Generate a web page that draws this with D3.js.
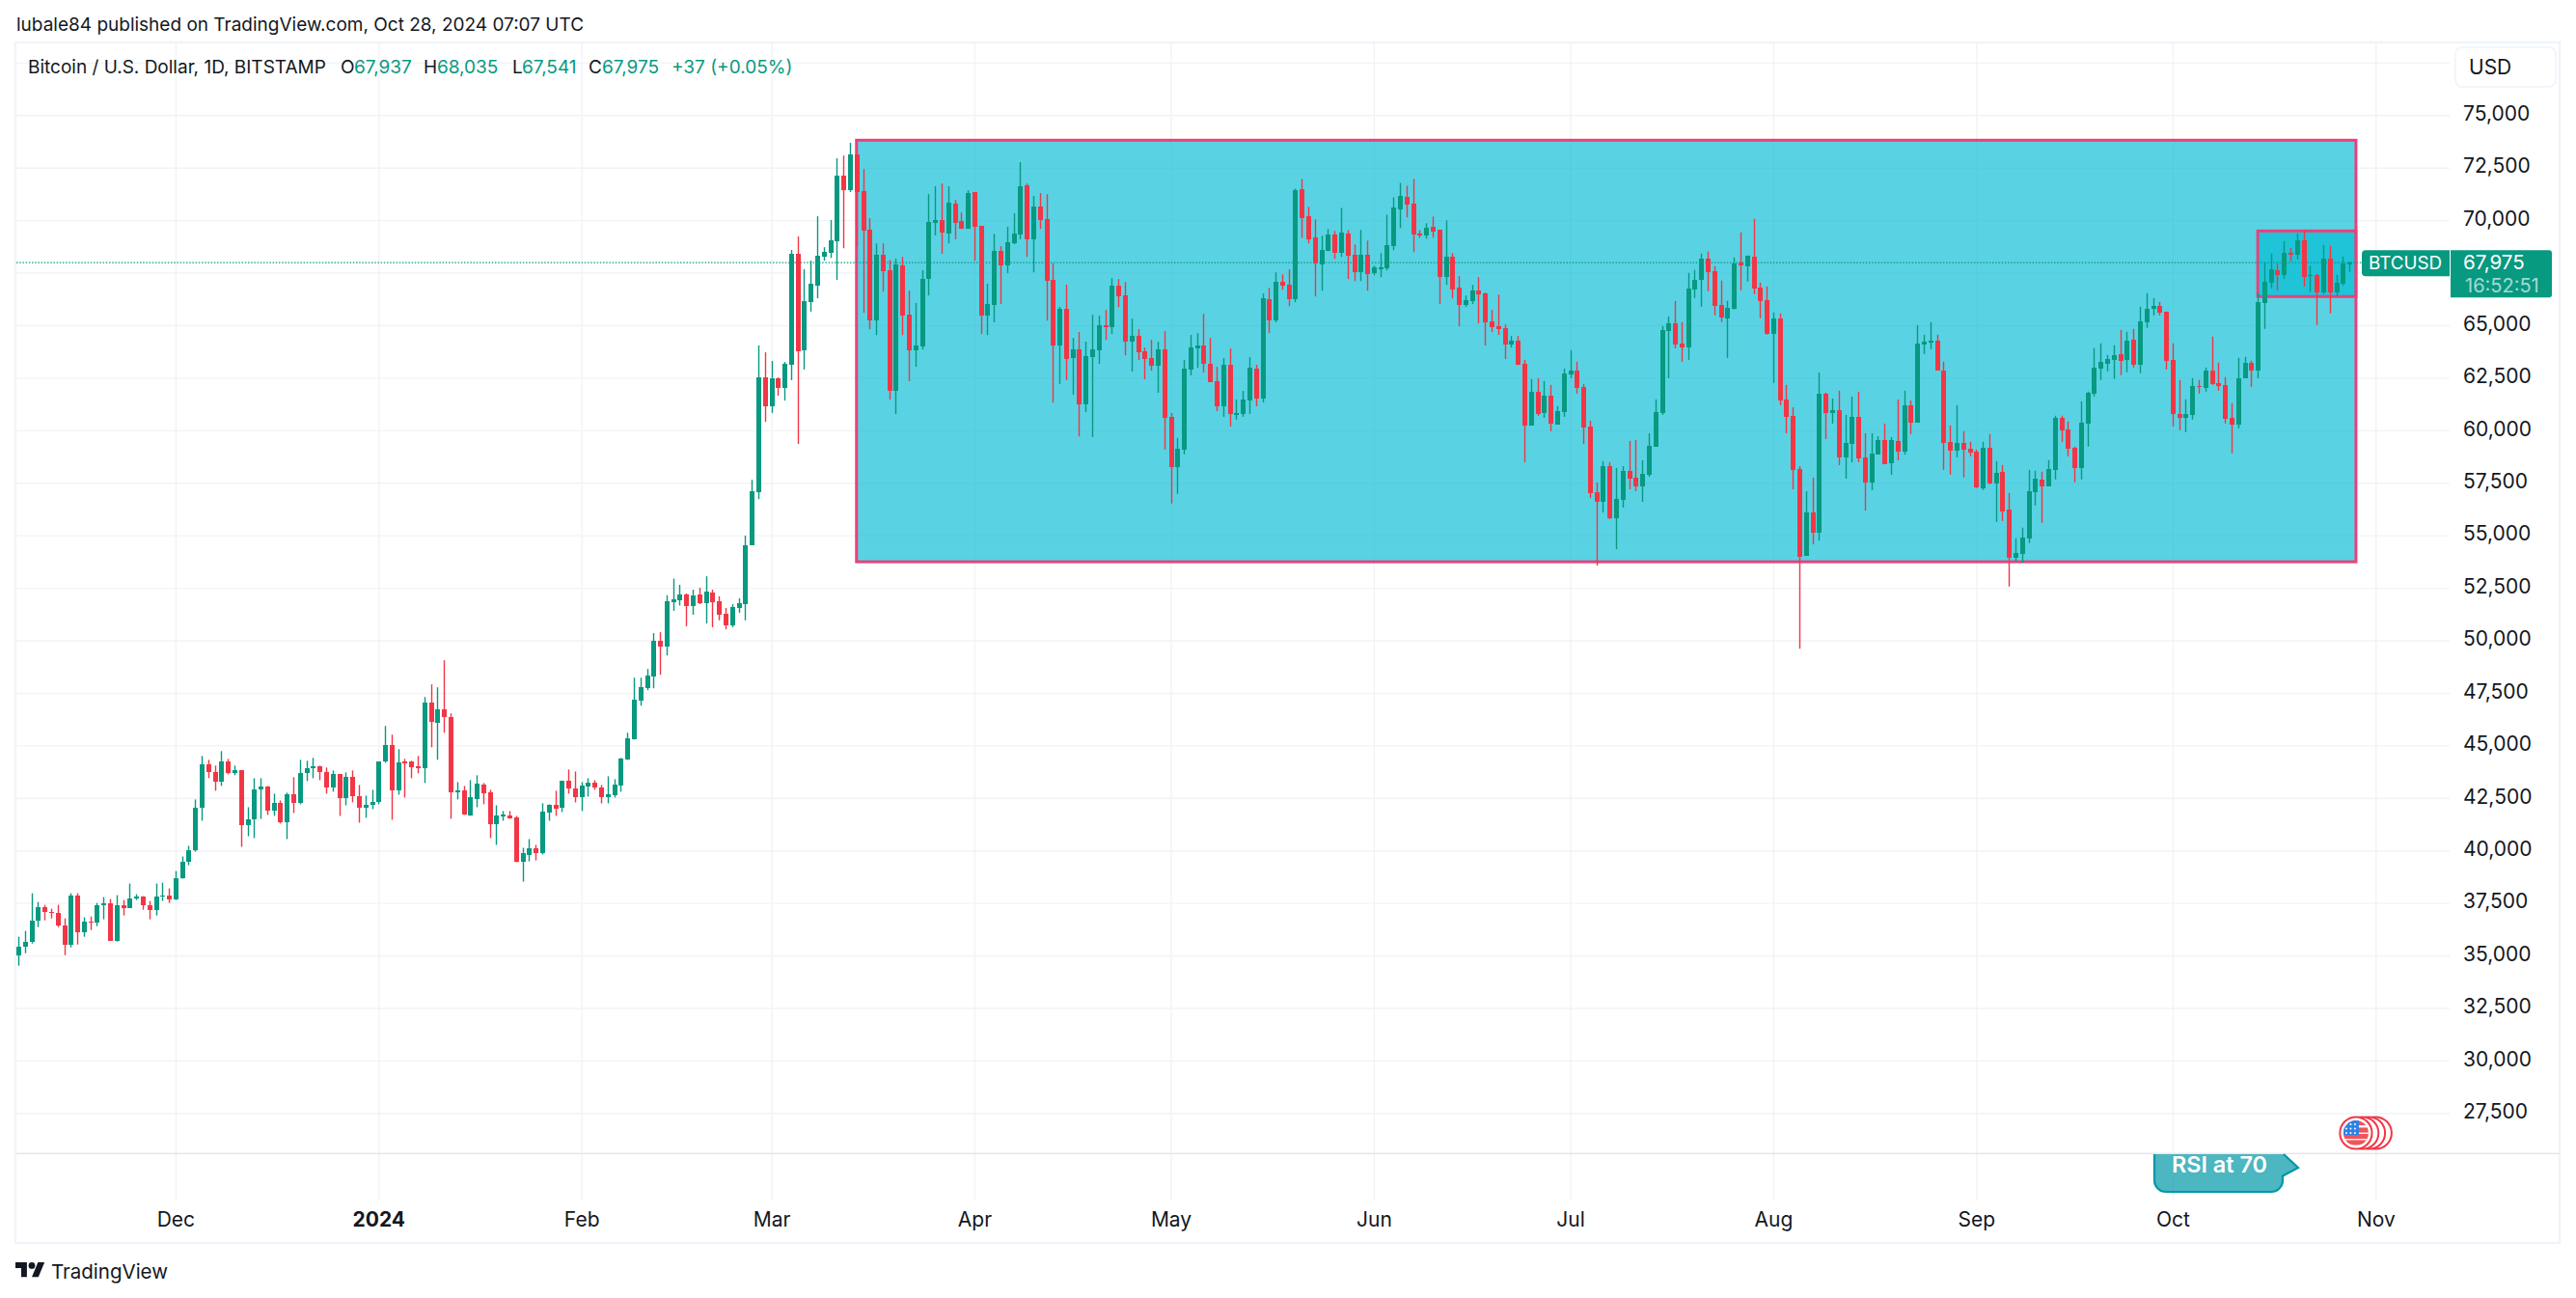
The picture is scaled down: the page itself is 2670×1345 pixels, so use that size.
<!DOCTYPE html>
<html>
<head>
<meta charset="utf-8">
<script src="https://cdn.jsdelivr.net/npm/d3@7"></script>
<style>
  html, body { margin: 0; padding: 0; background: #fff; }
  svg { display: block; font-family: Inter, "Noto Sans", sans-serif; }
  text { fill: #131722; }
</style>
</head>
<body>
<svg id="chart" width="2670" height="1345"></svg>
<script>
// daily candles, Nov 7 2023 .. Oct 28 2024
const days = d3.utcDay.range(new Date(Date.UTC(2023, 10, 7)), new Date(Date.UTC(2024, 9, 29)));

const opens = [
  35015,35430,35660,36672,37316,37086,37040,36442,35522,37869,
  36120,36626,36580,37408,37500,35706,37408,37270,37730,37823,
  37408,37178,37823,37869,37685,38697,39479,39986,42010,44081,
  43713,43253,44219,43667,43805,41182,41458,42885,43023,41872,
  42240,41320,42655,42240,43667,43897,43989,43713,42977,43621,
  42471,43483,42563,42010,42148,42287,44219,45002,42839,44219,
  44219,43989,43897,47027,46060,46704,46336,42747,42839,41642,
  42425,43115,42747,41228,41596,41642,41550,39479,39801,40078,
  39893,41780,42148,42010,43299,42931,42517,43023,43207,42977,
  42517,42609,43069,44311,45278,47119,47717,48269,49972,49696,
  51821,51902,52181,51640,52181,51771,52280,51870,51263,50722,
  51542,51722,54526,57052,62513,61136,62464,62005,63120,68401,
  63809,66105,66876,68253,68434,68991,72107,71418,73124,71386,
  69549,65219,68352,67614,61874,67843,65498,63809,63989,67204,
  69860,70008,69352,70779,69959,69582,71336,69729,65449,65957,
  68532,67843,68893,69319,71648,69090,70648,70041,67154,64038,
  65777,63432,63842,61234,63480,63801,64993,64901,66873,66414,
  64214,64489,63755,63435,63068,63847,60638,58255,59080,62884,
  63893,64030,63160,62334,61143,63114,60776,60776,61418,62930,
  61509,66231,65222,67056,66918,66231,71457,70173,69165,67881,
  68523,69302,68431,69348,68339,67514,68339,67468,67698,67698,
  68752,70494,71090,70769,69348,69256,69669,69531,67285,68248,
  66781,65956,66139,66643,66506,65176,64947,64856,64076,64260,
  63168,60225,61835,60823,61651,60271,60869,62663,62847,62065,
  60179,57052,56592,58293,55810,56684,58064,57742,57328,57880,
  59213,60823,64732,65100,64134,63950,66710,67170,68181,67584,
  65974,65330,65790,67997,67813,68273,66802,66204,64594,65330,
  61467,60685,58156,54016,56086,55120,61743,60823,60961,58707,
  59351,60639,58707,57512,58845,59535,58432,59489,58983,61191,
  60363,64088,64182,64273,62850,59451,59037,59405,59129,58991,
  57246,59175,57476,58027,56236,53939,54123,54858,57062,57659,
  57338,58119,60599,60048,59175,58211,60323,61747,62941,63171,
  63355,63630,63355,64319,63125,65146,65789,65927,65651,63355,
  60783,60599,60737,62115,62023,62850,62252,62161,60599,60277,
  62482,63217,62850,66065,67029,67626,67397,68453,68361,69050,
  67351,67397,66570,68177,66570,66983,67937
];

const highs = [
  35890,36166,37961,37546,37408,37224,37408,36764,37961,37961,
  36810,36856,37500,37777,37685,37869,37638,38421,37915,37823,
  37592,38421,38467,38191,39019,39709,40216,42425,44495,44311,
  44035,44726,44357,44035,43805,42056,43437,43437,43069,42701,
  42379,42747,43483,44311,44265,44403,44035,43943,43805,43621,
  43713,43805,43115,42609,42885,44219,45922,45508,44818,44357,
  44265,44495,47303,47901,47763,49051,46520,43253,43069,43345,
  43575,43207,42885,42148,41872,41872,41642,40124,40538,40262,
  42240,42194,42839,43299,43851,43759,43253,43437,43345,43115,
  43529,43391,44403,45600,48223,48223,48637,50340,50386,52145,
  52932,52640,52230,52411,52509,53050,52411,52099,51542,51722,
  52001,54986,57642,64038,63710,63300,62513,63251,68581,69221,
  67663,68073,70188,68712,70008,72944,73075,73682,73124,72435,
  70090,68893,68893,68106,68171,68253,66646,66056,67614,71238,
  71615,71746,71615,70959,70369,71418,71336,69729,66974,69352,
  68762,69680,70320,72763,71746,71156,71287,71238,67942,65875,
  66925,64399,64678,64219,65497,65452,65727,67239,67193,67056,
  65314,64810,63939,64306,64214,64718,60822,59630,63343,64535,
  64626,65543,64397,63022,63435,63893,61463,61876,63480,63114,
  66506,66781,67514,67423,67652,71502,71961,70631,70036,69256,
  69577,69485,70586,69531,68844,69531,69027,67835,68431,70265,
  71090,71777,71640,71961,69531,69852,70173,69531,69990,68431,
  67331,66414,66918,67285,66552,65727,66460,65039,64489,64489,
  63352,62433,62479,62341,62157,61145,62939,63812,63260,62203,
  60455,57512,58523,58477,58202,58293,59489,59535,58569,59857,
  61467,64962,65422,66158,65146,67492,67630,68411,68503,67813,
  67124,66158,68227,69423,68319,70067,67032,66847,65606,65560,
  62157,61099,58293,57098,57742,62755,61789,61513,61881,60731,
  61605,61835,59857,59857,59719,60317,59673,61467,61881,61421,
  65008,64548,65146,64549,63263,60232,61196,59956,59451,59083,
  59451,59818,58532,58348,57016,54858,55363,58119,58073,58027,
  58578,60691,60691,60415,59221,61380,61839,63906,64136,63584,
  64044,64779,64687,64825,65881,66524,66294,66111,65651,64136,
  62390,61472,62482,62390,62987,64457,63217,62528,61288,63447,
  63493,63309,66524,67994,68407,67948,69004,68683,69372,69509,
  67810,67443,68820,68774,67397,68269,68035
];

const lows = [
  34509,35107,35568,36350,36672,36764,36350,35015,35384,35522,
  35890,36212,36396,36718,35706,35660,36902,37270,37638,37178,
  36718,36902,37592,37500,37638,38651,39295,39939,41412,43437,
  42839,43069,43621,43575,40170,40676,40584,41504,41688,41642,
  41274,40538,41780,42194,43299,43437,43345,42701,42793,41642,
  42148,42287,41320,41550,41964,42194,44173,41458,42655,42517,
  43437,43667,43207,44910,44311,45600,41504,42425,41688,41642,
  42056,42194,40584,40262,41412,41504,39433,38513,39479,39525,
  39801,41412,41642,41826,42701,42287,41872,42563,42885,42240,
  42240,42517,42793,44311,45278,46889,47625,47717,48361,49282,
  51404,51656,50672,51214,51722,50804,50623,50951,50525,50623,
  51312,50951,54526,56724,60398,60824,61644,61414,62382,59348,
  62890,65646,66285,68073,68204,67154,68663,71336,68762,65596,
  64809,64530,66597,61464,60775,64530,62333,63022,63842,66416,
  69270,68401,68893,69090,69582,69582,68073,64580,64530,65137,
  66006,67482,68844,69090,68253,67515,69582,65219,61316,62202,
  62382,61693,59709,60857,59676,63160,64306,64581,65864,63572,
  62793,63343,62426,62839,61784,59080,56513,56971,58851,62609,
  62976,62747,62289,60913,60638,60180,60501,60638,60776,61143,
  61326,64626,65131,66689,65910,66093,69165,68890,66368,66643,
  68523,68156,68248,67193,67102,67102,66643,67377,67285,67606,
  68569,69623,70127,68477,69165,69119,69165,66002,66918,66277,
  64947,65864,66002,65085,64030,64672,64535,63389,63939,63114,
  58477,60225,60685,60593,59949,60271,60639,62479,61743,59351,
  56776,53557,56086,55764,54338,56316,57190,57098,56592,57788,
  59213,60731,62479,63904,63260,63352,66296,65882,66618,65468,
  65146,63444,65744,66664,67078,66480,65330,64548,62249,61191,
  59857,57190,49601,54016,54568,54752,59581,60317,58340,57696,
  58477,58477,56178,57144,58845,58386,57880,58569,58845,59811,
  60363,63629,63860,62850,58119,57889,58716,57751,58762,57246,
  57154,57430,55639,55684,52561,53755,53694,54628,56419,55593,
  57338,57659,59451,58762,57522,57659,59221,61609,62390,62804,
  62436,62620,62758,62987,62712,64870,65468,65468,62895,60186,
  60002,59910,60507,61747,61839,62161,61885,60323,58900,60094,
  62482,62069,62482,64825,66754,66662,67213,68040,68132,66845,
  66570,65008,66478,65559,66386,66891,67541
];

const closes = [
  35430,35660,36672,37316,37086,37040,36442,35522,37869,36120,
  36626,36580,37408,37500,35706,37408,37270,37730,37823,37408,
  37178,37823,37869,37685,38697,39479,39986,42010,44081,43713,
  43253,44219,43667,43805,41182,41458,42885,43023,41872,42240,
  41320,42655,42240,43667,43897,43989,43713,42977,43621,42471,
  43483,42563,42010,42148,42287,44219,45002,42839,44173,44173,
  43943,43943,47027,46106,46704,46336,42747,42839,41688,42517,
  43161,42701,41228,41642,41688,41504,39479,39893,40078,39893,
  41826,42148,41964,43299,42931,42517,43069,43207,42977,42517,
  42655,43115,44357,45324,47165,47763,48315,49972,49696,51867,
  51960,52181,51640,52132,51771,52329,51820,51214,50722,51591,
  51771,54526,57101,62513,61136,62464,62005,63153,68401,63760,
  66138,66974,68302,68483,69040,72107,71418,73124,71336,69500,
  65219,68352,67564,61874,67892,65449,63809,64038,67204,69910,
  70008,69401,70828,69860,69582,71287,69680,65449,66006,68532,
  67843,68942,69352,71615,69090,70648,70008,67105,64038,65777,
  63382,63842,61234,63530,63847,64993,64947,66873,66368,64214,
  64489,63710,63389,63068,63847,60592,58255,59126,62930,63939,
  64030,63160,62289,61143,63114,60776,60822,61463,62976,61509,
  66277,65222,67056,66873,66231,71411,70081,69073,67927,68569,
  69302,68431,69394,68294,67514,68339,67423,67744,67744,68798,
  70586,71136,70723,69302,69302,69623,69440,67285,68248,66689,
  65956,66185,66643,66460,65131,64901,64810,64076,64260,63114,
  60225,61835,60777,61651,60317,60915,62709,62847,62019,60133,
  57006,56592,58293,55810,56730,58064,57696,57328,57926,59259,
  60869,64778,65100,64088,63950,66756,67170,68181,67538,65928,
  65376,65836,67951,67859,68319,66756,66158,64594,65330,61421,
  60639,58110,53970,56086,55120,61743,60823,60961,58707,59397,
  60639,58661,57512,58891,59535,58386,59535,58983,61191,60363,
  64134,64226,64273,62850,59405,59037,59405,59083,58946,57292,
  59175,57476,57981,56144,53939,54169,54904,57108,57705,57338,
  58165,60599,60002,59129,58211,60369,61793,62987,63263,63401,
  63584,63309,64273,63125,65192,65789,65927,65605,63309,60783,
  60599,60783,62115,62069,62850,62207,62115,60553,60277,62482,
  63217,62850,66111,67075,67672,67397,68453,68361,69050,67305,
  67397,66570,68177,66570,67029,67948,67975
];

const priceTicks = d3.range(27500, 77501, 2500);
const labelledPrices = d3.range(27500, 75001, 2500);
const monthTicks = ["2023-12-01","2024-01-01","2024-02-01","2024-03-01","2024-04-01","2024-05-01",
                    "2024-06-01","2024-07-01","2024-08-01","2024-09-01","2024-10-01","2024-11-01"];
const monthLabels = ["Dec","2024","Feb","Mar","Apr","May","Jun","Jul","Aug","Sep","Oct","Nov"];

// drawn rectangles: time and price corners
const rangeBox = { from: "2024-03-14", to: "2024-10-29", top: 73806, bottom: 53739 };
const flagBox = { from: "2024-10-14", to: "2024-10-29", top: 69487, bottom: 66364 };
const eventDays = ["2024-11-01", "2024-10-31", "2024-10-30", "2024-10-29"];

const last = { open: 67937, high: 68035, low: 67541, close: 67975 };

const green = "#089981", red = "#f23645", pink = "#ec407a";
const utc = s => new Date(s + "T00:00:00Z");

const x = d3.scaleUtc().domain([utc("2024-01-01"), utc("2024-11-01")]).range([392.3, 2462.3]);
const y = d3.scaleLinear().domain([75000, 27500]).range([119.3, 1153.3]);

const svg = d3.select("#chart");

// pane frame
svg.append("rect").attr("x", 16).attr("y", 44).attr("width", 2637).attr("height", 1244)
   .attr("fill", "#fff").attr("stroke", "#f0f3fa").attr("stroke-width", 2.4);

// grid, through the axis generators
const hGrid = svg.append("g").attr("transform", "translate(17,0)")
   .call(d3.axisRight(y).tickValues(priceTicks).tickSize(2522).tickFormat(""));
const vGrid = svg.append("g").attr("transform", "translate(0,45)")
   .call(d3.axisBottom(x).tickValues(monthTicks.map(utc)).tickSize(1199).tickFormat(""));
[hGrid, vGrid].forEach(g => {
  g.select(".domain").remove();
  g.selectAll("line").attr("stroke", "#f2f3f6").attr("stroke-width", 1.4);
});

// pane / time scale divider
svg.append("rect").attr("x", 17).attr("y", 1194.6).attr("width", 2636).attr("height", 1.4).attr("fill", "#e4e4ef");

// the two drawn rectangles
[rangeBox, flagBox].forEach(b => {
  svg.append("rect")
     .attr("x", x(utc(b.from)))
     .attr("y", y(b.top))
     .attr("width", x(utc(b.to)) - x(utc(b.from)))
     .attr("height", y(b.bottom) - y(b.top))
     .attr("fill", "#00bcd4").attr("fill-opacity", 0.65)
     .attr("stroke", pink).attr("stroke-width", 3);
});

// last price line
svg.append("line").attr("x1", 17).attr("x2", 2448).attr("y1", y(last.close)).attr("y2", y(last.close))
   .attr("stroke", green).attr("stroke-width", 1.2).attr("stroke-dasharray", "1.5 1.7");

// candles
const candles = svg.append("g")
   .selectAll("g").data(days).join("g")
   .attr("fill", (d, i) => closes[i] >= opens[i] ? green : red);
candles.append("rect")
   .attr("x", d => Math.round(x(d)) - 0.2)
   .attr("width", 1.4)
   .attr("y", (d, i) => y(highs[i]))
   .attr("height", (d, i) => y(lows[i]) - y(highs[i]));
candles.append("rect")
   .attr("shape-rendering", "crispEdges")
   .attr("x", d => Math.round(x(d)) - 2)
   .attr("width", 5)
   .attr("y", (d, i) => y(Math.max(opens[i], closes[i])))
   .attr("height", (d, i) => Math.max(1.6, Math.abs(y(opens[i]) - y(closes[i]))));

// RSI note, cut by the pane bottom
svg.append("path")
   .attr("d", "M2233 1196 V1223 A12 12 0 0 0 2245 1235 H2354 A12 12 0 0 0 2366 1223 V1218.5 L2382 1210 L2367 1196")
   .attr("fill", "rgba(0,151,167,0.7)").attr("stroke", "#0097a7").attr("stroke-width", 2.2);
svg.append("text").attr("x", 2251).attr("y", 1207).attr("dy", "0.36em")
   .attr("font-size", 23.4).attr("font-weight", 600).style("fill", "#fff").text("RSI at 70");

// US event badges
const badgeY = 1174, badgeR = 16.6;
const badges = svg.append("g");
badges.selectAll("circle").data(eventDays).join("circle")
   .attr("cx", d => x(utc(d)))
   .attr("cy", badgeY).attr("r", badgeR)
   .attr("fill", "#fff").attr("stroke", red).attr("stroke-width", 2);
const bx = x(utc("2024-10-29"));
const clip = svg.append("clipPath").attr("id", "flagClip");
clip.append("circle").attr("cx", bx).attr("cy", badgeY).attr("r", 13);
const flag = svg.append("g").attr("clip-path", "url(#flagClip)");
flag.append("rect").attr("x", bx - 13).attr("y", badgeY - 13).attr("width", 26).attr("height", 26).attr("fill", "#fff");
[-10.5, -3, 3.5, 10].forEach(o => {
  flag.append("rect").attr("x", bx - 13).attr("y", badgeY + o - 2.6).attr("width", 26).attr("height", 5.2).attr("fill", "#f0545a");
});
flag.append("rect").attr("x", bx - 13).attr("y", badgeY - 13).attr("width", 16).attr("height", 15).attr("fill", "#2a84e8");
d3.cross([-9, -4.5, 0], [-9, -4.5, 0]).forEach(([a, b]) => {
  flag.append("circle").attr("cx", bx - 1 + a).attr("cy", badgeY + b).attr("r", 1).attr("fill", "#fff");
});

// price labels on the right
const yAxis = svg.append("g").attr("transform", "translate(2553,0)")
   .call(d3.axisRight(y).tickValues(labelledPrices).tickSize(0).tickPadding(0).tickFormat(d3.format(",")));
yAxis.select(".domain").remove();
yAxis.selectAll("text").attr("font-family", "Inter").attr("font-size", 21).attr("dy", "0.25em").style("fill", "#131722");

// month labels
const xAxis = svg.append("g").attr("transform", "translate(0,1256)")
   .call(d3.axisBottom(x).tickValues(monthTicks.map(utc)).tickSize(0).tickPadding(0)
           .tickFormat((d, i) => monthLabels[i]));
xAxis.select(".domain").remove();
xAxis.selectAll("text").attr("font-family", "Inter").attr("font-size", 21).attr("dy", "0.72em").style("fill", "#131722")
     .attr("font-weight", (d, i) => monthLabels[i] === "2024" ? 700 : 400);

// currency box
svg.append("rect").attr("x", 2545).attr("y", 49).attr("width", 104).attr("height", 41).attr("rx", 7)
   .attr("fill", "#fff").attr("stroke", "#f0f3fa").attr("stroke-width", 1.6);
svg.append("text").attr("x", 2559).attr("y", 69.5).attr("dy", "0.36em").attr("font-size", 21).text("USD");

// symbol and last price tags
const tagY = y(last.close);
svg.append("path").attr("d", `M2539 ${tagY - 13} H2452 a4 4 0 0 0 -4 4 V${tagY + 10} a4 4 0 0 0 4 4 H2539 Z`).attr("fill", green);
svg.append("path").attr("d", `M2540 ${tagY - 13} H2642 a3 3 0 0 1 3 3 V${tagY + 33} a3 3 0 0 1 -3 3 H2540 Z`).attr("fill", green);
svg.append("text").attr("x", 2455).attr("y", tagY + 0.5).attr("dy", "0.36em").attr("font-size", 18.8).style("fill", "#fff").text("BTCUSD");
svg.append("text").attr("x", 2553).attr("y", tagY - 1).attr("dy", "0.36em").attr("font-size", 20.5).style("fill", "#fff").text(d3.format(",")(last.close));
svg.append("text").attr("x", 2555).attr("y", tagY + 23.5).attr("dy", "0.36em").attr("font-size", 20).style("fill", "#fff")
   .style("fill-opacity", 0.65).text("16:52:51");

// header lines
svg.append("text").attr("x", 17).attr("y", 25).attr("dy", "0.36em").attr("font-size", 19)
   .text("lubale84 published on TradingView.com, Oct 28, 2024 07:07 UTC");
svg.append("text").attr("x", 29).attr("y", 69).attr("dy", "0.36em").attr("font-size", 19)
   .text("Bitcoin / U.S. Dollar, 1D, BITSTAMP");

const fmt = d3.format(",");
const legendBits = [
  [353, "O", "#131722"], [367, fmt(last.open), green],
  [439, "H", "#131722"], [453, fmt(last.high), green],
  [531, "L", "#131722"], [541, fmt(last.low), green],
  [610, "C", "#131722"], [624, fmt(last.close), green],
  [696, "+37 (+0.05%)", green]
];
svg.append("g").selectAll("text").data(legendBits).join("text")
   .attr("x", d => d[0]).attr("y", 69).attr("dy", "0.36em").attr("font-size", 19)
   .style("fill", d => d[2]).text(d => d[1]);

// logo
const logo = svg.append("g").attr("transform", "translate(16,1304.6) scale(0.85)").attr("fill", "#131722");
logo.append("path").attr("d", "M14 22H7V11H0V4h14v18zM28 22h-8l7.5-18h8L28 22z");
logo.append("circle").attr("cx", 20).attr("cy", 8).attr("r", 4);
svg.append("text").attr("x", 53).attr("y", 1318).attr("dy", "0.36em").attr("font-size", 20.5).text("TradingView");
</script>
</body>
</html>
